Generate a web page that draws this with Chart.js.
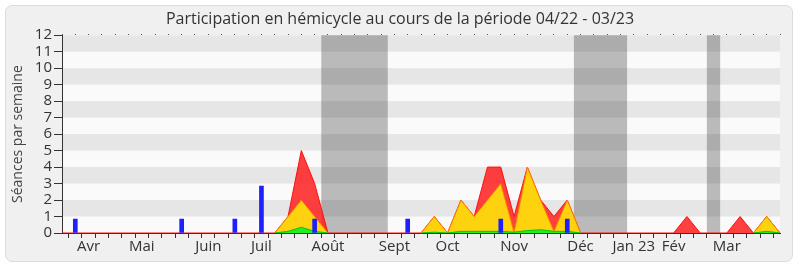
<!DOCTYPE html>
<html>
<head>
<meta charset="utf-8">
<script src="https://cdn.jsdelivr.net/npm/chart.js@4/dist/chart.umd.min.js"></script>
<style>
    body { margin: 0; background: #fff; }
    #frame {
        position: absolute; left: 5px; top: 5px; width: 786px; height: 255px;
        background: #f0f0f0; border: 1px solid #dcdcdc; border-radius: 7px;
    }
    #wrap { position: absolute; left: 0; top: 0; width: 800px; height: 267px; }
</style>
</head>
<body>
<div id="frame"></div>
<div id="wrap"><canvas id="chart" width="800" height="267"></canvas></div>
<script>
// Weeks 0..54, month names sit on the first week of each month
const monthNames = ["Avr", "Mai", "Juin", "Juil", "Août", "Sept", "Oct", "Nov", "Déc", "Jan 23", "Fév", "Mar"];
const monthWeeks = [2, 6, 11, 15, 20, 25, 29, 34, 39, 43, 46, 50];
const weekCount = 55;

// Séances per week; weeks missing from yellow/green are gaps
const redValues = { 16: 0, 17: 1, 18: 5, 19: 3, 20: 0, 27: 0, 28: 1, 29: 0, 30: 2, 31: 1, 32: 4, 33: 4, 34: 1, 35: 4, 36: 2, 37: 1, 38: 2, 39: 0, 47: 1, 51: 1, 53: 1 };
const yellowValues = { 16: 0, 17: 1, 18: 2, 19: 1, 20: 0, 27: 0, 28: 1, 29: 0, 30: 2, 31: 1, 32: 2, 33: 3, 34: 0.05, 35: 4, 36: 2, 37: 0.1, 38: 2, 39: 0, 52: 0, 53: 1, 54: 0 };
const greenValues = { 16: 0, 17: 0.1, 18: 0.35, 19: 0.1, 20: 0, 27: 0, 28: 0.05, 29: 0, 30: 0.1, 31: 0.1, 32: 0.1, 33: 0.1, 34: 0.05, 35: 0.15, 36: 0.2, 37: 0.1, 38: 0.1, 39: 0, 52: 0, 53: 0.1, 54: 0 };
const blueWeeks = [1, 9, 13, 15, 19, 26, 33, 38];
const blueValues = [0.85, 0.85, 0.85, 2.85, 0.85, 0.85, 0.85, 0.85];

// Shaded holiday periods (week positions)
const breakStart = [19.5, 38.5, 48.5];
const breakEnd = [24.5, 42.5, 49.5];

const yTicks = [0, 1, 2, 3, 4, 5, 6, 7, 8, 9, 10, 11, 12];

function toSeries(values, empty) {
    const out = [];
    for (let i = 0; i < weekCount; i++) out.push(values[i] !== undefined ? values[i] : empty);
    return out;
}

const labels = [];
for (let i = 0; i < weekCount; i++) {
    const m = monthWeeks.indexOf(i);
    labels.push(m >= 0 ? monthNames[m] : "");
}

const blueSeries = new Array(weekCount).fill(null);
blueWeeks.forEach((w, i) => { blueSeries[w] = blueValues[i]; });

// background stripes + holiday bands
const bandsPlugin = {
    id: "bands",
    beforeDraw(chart) {
        const { ctx, chartArea: a, scales } = chart;
        const y = scales.y, x = scales.x;
        ctx.save();
        ctx.fillStyle = "#fafafa";
        ctx.fillRect(a.left, a.top, a.right - a.left, a.bottom - a.top);
        ctx.fillStyle = "#e6e6e6";
        for (let v = 1; v < 12; v += 2) {
            const top = y.getPixelForValue(v + 1), bot = y.getPixelForValue(v);
            ctx.fillRect(a.left, top, a.right - a.left, bot - top);
        }
        ctx.fillStyle = "rgba(40,40,40,0.3)";
        breakStart.forEach((s, i) => {
            const l = x.getPixelForValue(s), r = x.getPixelForValue(breakEnd[i]);
            ctx.fillRect(l, a.top, r - l, a.bottom - a.top);
        });
        ctx.restore();
    },
};

const font = "'Open Sans', 'DejaVu Sans', sans-serif";

new Chart(document.getElementById("chart"), {
    data: {
        labels: labels,
        datasets: [
            {
                type: "bar",
                data: blueSeries,
                backgroundColor: "#1f1fff",
                barThickness: 4,
                order: 0,
            },
            {
                type: "line",
                data: toSeries(greenValues, null),
                borderColor: "#00c800",
                backgroundColor: "#22ee22",
                borderWidth: 1,
                pointRadius: 0,
                fill: "origin",
                order: 1,
            },
            {
                type: "line",
                data: toSeries(yellowValues, null),
                borderColor: "#ff7a00",
                backgroundColor: "#ffd20f",
                borderWidth: 1,
                pointRadius: 0,
                fill: "origin",
                order: 2,
            },
            {
                type: "line",
                data: toSeries(redValues, 0),
                borderColor: "#ff1010",
                backgroundColor: "rgba(255,30,30,0.85)",
                borderWidth: 1,
                pointRadius: 0,
                fill: "origin",
                order: 3,
            },
        ],
    },
    options: {
        responsive: false,
        animation: false,
        layout: { padding: { left: 20, right: 20, top: 0, bottom: 0 } },
        plugins: {
            legend: { display: false },
            tooltip: { enabled: false },
            title: {
                display: true,
                text: "Participation en hémicycle au cours de la période 04/22 - 03/23",
                color: "#333",
                font: { family: font, size: 16, weight: "normal" },
                padding: { top: 10, bottom: 5 },
            },
        },
        scales: {
            x: {
                type: "category",
                offset: false,
                grid: { drawOnChartArea: false, tickLength: 5, color: "#333" },
                border: { color: "#333" },
                ticks: {
                    autoSkip: false,
                    maxRotation: 0,
                    padding: 0,
                    color: "#333",
                    font: { family: font, size: 15 },
                },
                afterFit(scale) { scale.height = 34; },
            },
            x2: {
                type: "category",
                position: "top",
                offset: false,
                grid: { drawOnChartArea: false, tickLength: 1, color: "#333" },
                border: { display: false },
                ticks: { display: false },
            },
            y: {
                min: 0,
                max: 12,
                afterBuildTicks(scale) { scale.ticks = yTicks.map((v) => ({ value: v })); },
                grid: { drawOnChartArea: false, tickLength: 8, color: "#333" },
                border: { color: "#333" },
                ticks: { autoSkip: false, color: "#333", padding: 2, font: { family: font, size: 15 } },
                title: {
                    display: true,
                    text: "Séances par semaine",
                    color: "#444",
                    font: { family: font, size: 14 },
                    padding: { top: -10, bottom: 0 },
                },
                afterFit(scale) { scale.width = 42; },
            },
        },
    },
    plugins: [bandsPlugin],
});
</script>
</body>
</html>
